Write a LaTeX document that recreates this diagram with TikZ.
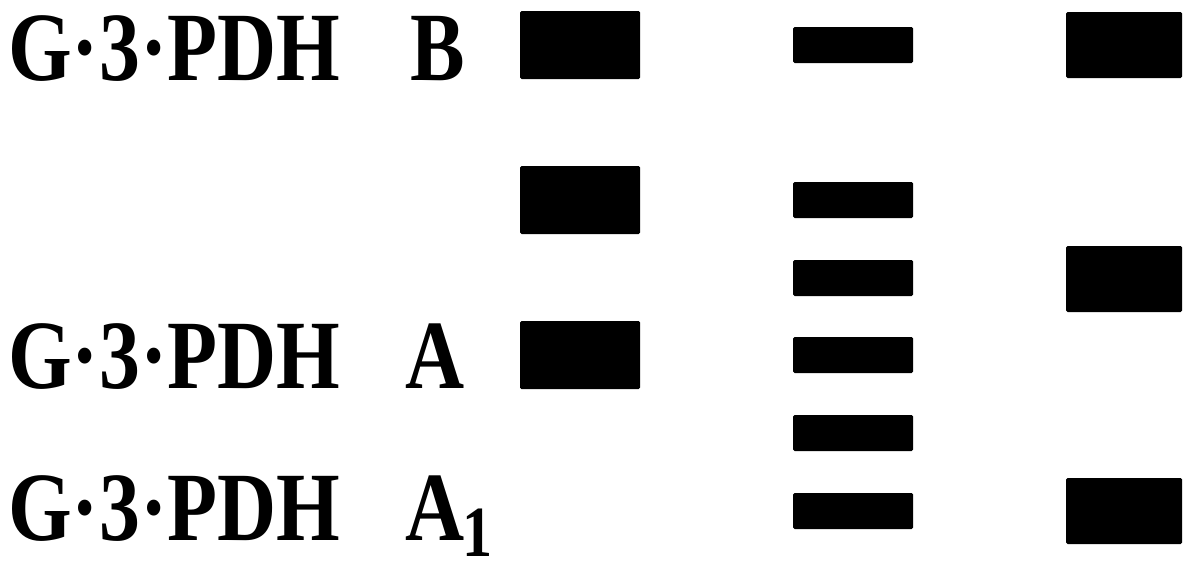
\documentclass[tikz,border=0pt]{standalone}
\usepackage{graphicx}
\usepackage{fontspec}
\setmainfont{Liberation Serif}
\newcommand\mylab[1]{\scalebox{0.835}[1]{#1}}
\begin{document}
\begin{tikzpicture}[x=1pt,y=-1pt,
  lbl/.style={anchor=base west,inner sep=0pt,font=\fontsize{98}{98}\selectfont\bfseries},
  wideband/.style={fill=black,draw=none,minimum width=120pt,minimum height=68pt,inner sep=0pt,rounded corners=1.5pt},
  thinband/.style={fill=black,draw=none,minimum width=120pt,minimum height=36pt,inner sep=0pt,rounded corners=1.5pt},
  rightband/.style={fill=black,draw=none,minimum width=116pt,minimum height=66pt,inner sep=0pt,rounded corners=1.5pt}]
\useasboundingbox (0,0) rectangle (1189,568);
% labels
\node[lbl] (tB) at (8,80) {\mylab{G·3·PDH}};
\node[lbl] (lB) at (410,80) {\mylab{B}};
\node[lbl] (tA) at (8,388) {\mylab{G·3·PDH}};
\node[lbl] (lA) at (405,388) {\mylab{A}};
\node[lbl] (tA1) at (8,540) {\mylab{G·3·PDH}};
\node[lbl] (lA1) at (405,540) {\mylab{A\kern-2pt\raisebox{-16pt}{\fontsize{72}{72}\selectfont\bfseries 1}}};
% column 1
\node[wideband] (c1r1) at (580,45) {};
\node[wideband] (c1r3) at (580,200) {};
\node[wideband] (c1r5) at (580,355) {};
% column 2
\node[thinband] (c2r1) at (853,45) {};
\node[thinband] (c2r3) at (853,200) {};
\node[thinband] (c2r4) at (853,278) {};
\node[thinband] (c2r5) at (853,355) {};
\node[thinband] (c2r6) at (853,433) {};
\node[thinband] (c2r7) at (853,511) {};
% column 3
\node[rightband] (c3r1) at (1124,45) {};
\node[rightband] (c3r4) at (1124,279) {};
\node[rightband] (c3r7) at (1124,511) {};
\end{tikzpicture}
\end{document}
